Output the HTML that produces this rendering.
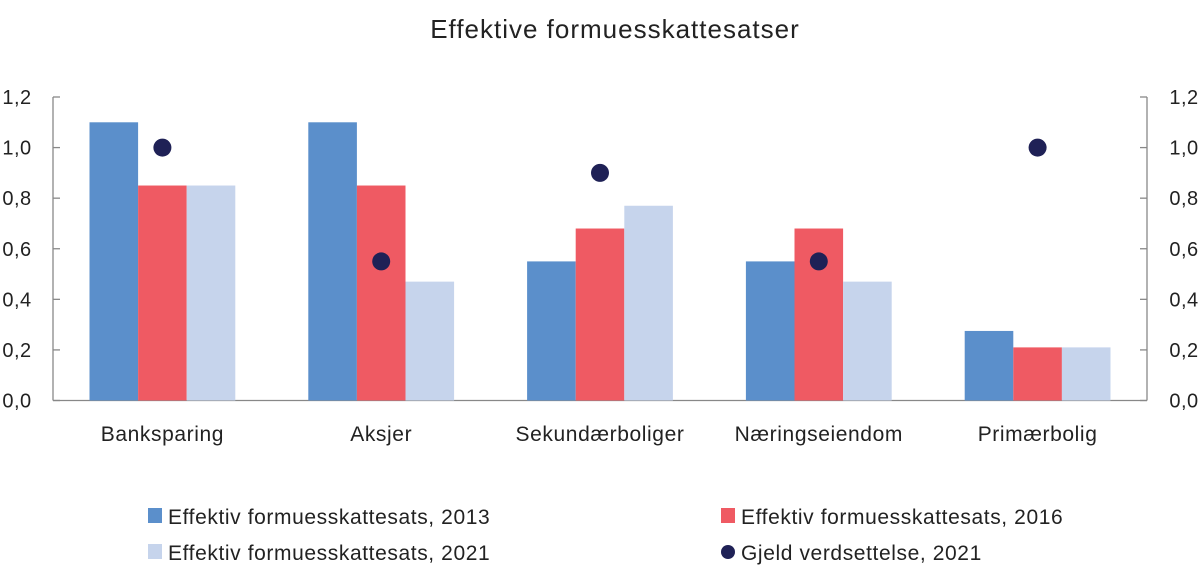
<!DOCTYPE html>
<html><head><meta charset="utf-8"><style>
body{margin:0;background:#fff;}
svg{display:block;font-family:"Liberation Sans",sans-serif;fill:#222;}
</style></head><body>
<svg id="c" width="1200" height="582">
<text x="615" y="38" text-anchor="middle" font-size="26" letter-spacing="1">Effektive formuesskattesatser</text>
<g id="axes"></g><g id="bars"></g><g id="dots"></g>
<g font-size="21" letter-spacing="0.6">
<rect x="148" y="508" width="14" height="15" fill="#5b8fcb"/>
<text x="168" y="524">Effektiv formuesskattesats, 2013</text>
<rect x="721" y="508" width="14" height="15" fill="#ef5a63"/>
<text x="741" y="524">Effektiv formuesskattesats, 2016</text>
<rect x="148" y="544" width="14" height="15" fill="#c6d4ec"/>
<text x="168" y="560">Effektiv formuesskattesats, 2021</text>
<circle cx="728" cy="552" r="7" fill="#1f2156"/>
<text x="741" y="560">Gjeld verdsettelse, 2021</text>
</g>
</svg>
<script>
const categories=["Banksparing","Aksjer","Sekundærboliger","Næringseiendom","Primærbolig"];
const s2013=[1.1,1.1,0.55,0.55,0.275];
const s2016=[0.85,0.85,0.68,0.68,0.21];
const s2021=[0.85,0.47,0.77,0.47,0.21];
const gjeld=[1.0,0.55,0.9,0.55,1.0];
const ticks=[0,0.2,0.4,0.6,0.8,1.0,1.2];
const tickLabels=["0,0","0,2","0,4","0,6","0,8","1,0","1,2"];
const NS="http://www.w3.org/2000/svg";
const x0=53,x1=1147,y0=400.5,yTop=97;
const band=(x1-x0)/categories.length, bw=48.6;
const y=v=>y0-(v/1.2)*(y0-yTop);
const xc=i=>x0+band*(i+0.5);
function mk(t,a,p){const e=document.createElementNS(NS,t);for(const k in a)e.setAttribute(k,a[k]);p.appendChild(e);return e;}
const ax=document.getElementById('axes'),bars=document.getElementById('bars'),dots=document.getElementById('dots');
let l=mk('line',{x1:x0,x2:x0,y1:yTop,y2:y0,stroke:'#888','stroke-width':1.3},ax);


l=mk('line',{x1:x1,x2:x1,y1:yTop,y2:y0,stroke:'#888','stroke-width':1.3},ax);


l=mk('line',{x1:x0,x2:x1,y1:y0,y2:y0,stroke:'#888','stroke-width':1.3},ax);


ticks.forEach((t,i)=>{
 const yy=y(t);
 mk('line',{x1:x0,x2:x0+7,y1:yy,y2:yy,stroke:'#888','stroke-width':1.3},ax);
 mk('line',{x1:x1-7,x2:x1,y1:yy,y2:yy,stroke:'#888','stroke-width':1.3},ax);
 let e=mk('text',{x:17,y:yy+7,'text-anchor':'middle','font-size':20,'letter-spacing':0.5},ax);e.textContent=tickLabels[i];
 
 
 e=mk('text',{x:1184,y:yy+7,'text-anchor':'middle','font-size':20,'letter-spacing':0.5},ax);e.textContent=tickLabels[i];
 
 
});
const series=[[s2013,'#5b8fcb','2013'],[s2016,'#ef5a63','2016'],[s2021,'#c6d4ec','2021']];
categories.forEach((c,i)=>{
 series.forEach((s,j)=>{
  const v=s[0][i];
  const r=mk('rect',{x:xc(i)+(j-1.5)*bw,y:y(v),width:bw,height:y0-y(v),fill:s[1]},bars);
  
  
 });
 const d=mk('circle',{cx:xc(i),cy:y(gjeld[i]),r:9,fill:'#1f2156'},dots);
 
 
 const t=mk('text',{x:xc(i),y:441,'text-anchor':'middle','font-size':21,'letter-spacing':0.6},ax);t.textContent=c;
 
 
});
</script>
</body></html>
